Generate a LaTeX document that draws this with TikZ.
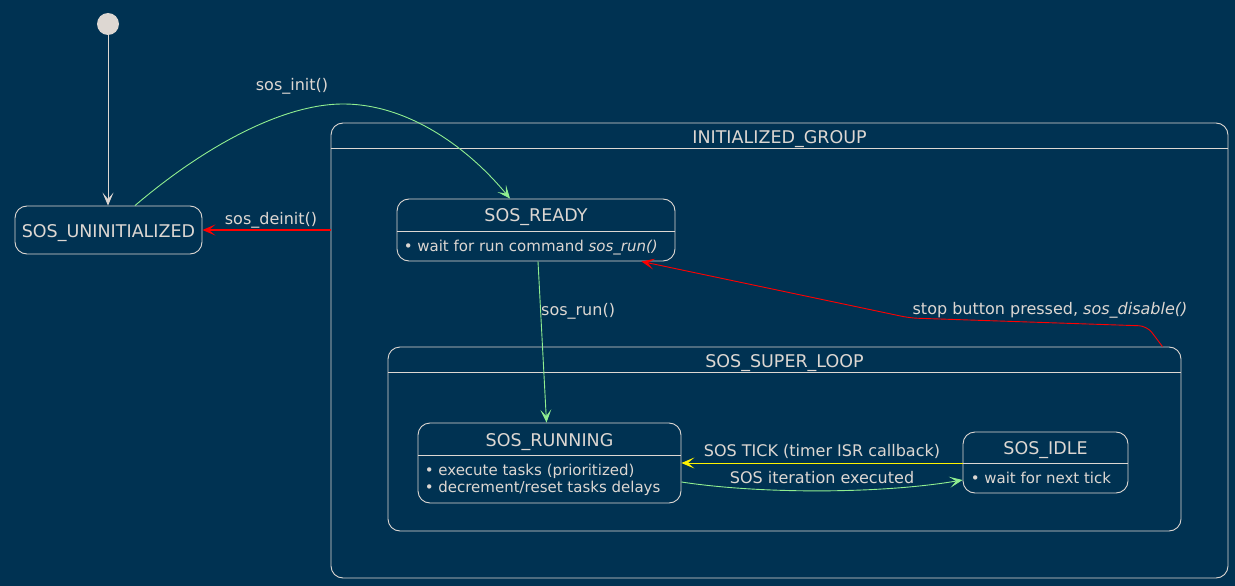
\documentclass[tikz,border=0pt]{standalone}
\usepackage{fontspec}
\setmainfont{DejaVu Sans}
\usepackage{xcolor}
\usepackage{tikz}
\usetikzlibrary{arrows.meta,calc}
\definecolor{SOSBack}{RGB}{0,50,82}
\definecolor{SOSLine}{RGB}{221,215,210}
\definecolor{SOSGreen}{RGB}{144,238,144}

\begin{document}
\begin{tikzpicture}[x=1pt, y=-1pt,
    state/.style={draw=SOSLine, line width=0.9pt, rounded corners=12pt, inner sep=0pt, text=SOSLine, font=\fontsize{17.5}{20}\selectfont},
    title/.style={anchor=base, inner sep=0pt, text=SOSLine, font=\fontsize{17.5}{20}\selectfont},
    desc/.style={anchor=base west, inner sep=0pt, align=left, text=SOSLine, font=\fontsize{15}{17.3}\selectfont},
    lbl/.style={anchor=base, inner sep=0pt, text=SOSLine, font=\fontsize{16}{19}\selectfont},
    sep/.style={draw=SOSLine, line width=0.9pt},
    arrow/.style={-{Stealth[length=13pt, width=11pt, inset=6.5pt]}, line width=0.9pt}
  ]
    \fill[SOSBack] (0,0) rectangle (1235,586);
    \useasboundingbox (0,0) rectangle (1235,586);

    % states and groups
    \node[circle, fill=SOSLine, minimum size=22pt, inner sep=0pt] (start) at (108,24) {};
    \node[state, minimum width=187pt, minimum height=48pt] (uninit) at (108.5,230) {};
    \node[title] (uninittitle) at (108.5,237) {SOS\_UNINITIALIZED};

    \node[state, minimum width=897pt, minimum height=455pt] (initgroup) at (779.5,350.5) {};
    \node[title] (initgrouptitle) at ($(initgroup.north)+(0,21)$) {INITIALIZED\_GROUP};
    \draw[sep] ($(initgroup.north west)+(0,25.5)$) -- ($(initgroup.north east)+(0,25.5)$);

    \node[state, minimum width=278pt, minimum height=62pt] (ready) at (536,230) {};
    \node[title] (readytitle) at ($(ready.north)+(0,23)$) {SOS\_READY};
    \draw[sep] ($(ready.north west)+(0,33)$) -- ($(ready.north east)+(0,33)$);
    \node[desc] (readydesc) at ($(ready.north west)+(7,53)$) {• wait for run command \textit{sos\_run()}};

    \node[state, minimum width=793pt, minimum height=184pt] (superloop) at (784.5,439) {};
    \node[title] (superlooptitle) at ($(superloop.north)+(0,21)$) {SOS\_SUPER\_LOOP};
    \draw[sep] ($(superloop.north west)+(0,26)$) -- ($(superloop.north east)+(0,26)$);

    \node[state, minimum width=263pt, minimum height=80pt] (running) at (549.5,463) {};
    \node[title] (runningtitle) at ($(running.north)+(0,23.5)$) {SOS\_RUNNING};
    \draw[sep] ($(running.north west)+(0,33)$) -- ($(running.north east)+(0,33)$);
    \node[desc] (runningdesc) at ($(running.north west)+(7,70.3)$) {• execute tasks (prioritized)\\• decrement/reset tasks delays};

    \node[state, minimum width=165pt, minimum height=61pt] (idle) at (1045.5,462.5) {};
    \node[title] (idletitle) at ($(idle.north)+(0,23)$) {SOS\_IDLE};
    \draw[sep] ($(idle.north west)+(0,32)$) -- ($(idle.north east)+(0,32)$);
    \node[desc] (idledesc) at ($(idle.north west)+(8,52)$) {• wait for next tick};

    % transitions
    \draw[arrow, draw=SOSLine] (start.south) -- (start.south |- uninit.north);
    \draw[arrow, draw=SOSGreen] ($(uninit.north)+(26.5,0)$) .. controls (200,150) and (280,104) .. (343,104)
      .. controls (410,104) and (470,150) .. ($(ready.north)+(-26,0)$);
    \node[lbl] (initlbl) at (292,91) {sos\_init()};

    \draw[arrow, draw=red, line width=1.3pt] (initgroup.west |- uninit.east) -- (uninit.east);
    \node[lbl] (deinitlbl) at (271,224) {sos\_deinit()};

    \draw[arrow, draw=SOSGreen] ($(ready.south)+(2,0)$) -- ($(running.north)+(-3,0)$);
    \node[lbl, anchor=base west] (runlbl) at (541,315) {sos\_run()};

    \draw[arrow, draw=red, rounded corners=8pt] ($(superloop.north east)+(-19,0)$) -- (1147,326) -- (910,318) -- ($(ready.south east)+(-34,0)$);
    \node[lbl] (stoplbl) at (1050,314.5) {stop button pressed, \textit{sos\_disable()}};

    \draw[arrow, draw=yellow] (idle.west |- 0,463) -- (running.east |- 0,463);
    \node[lbl] (ticklbl) at (822,456) {SOS TICK (timer ISR callback)};

    \draw[arrow, draw=SOSGreen] (running.east |- 0,482) .. controls (760,494) and (880,494) .. (idle.west |- 0,480);
    \node[lbl] (iterlbl) at (822,483.5) {SOS iteration executed};
  \end{tikzpicture}
\end{document}
